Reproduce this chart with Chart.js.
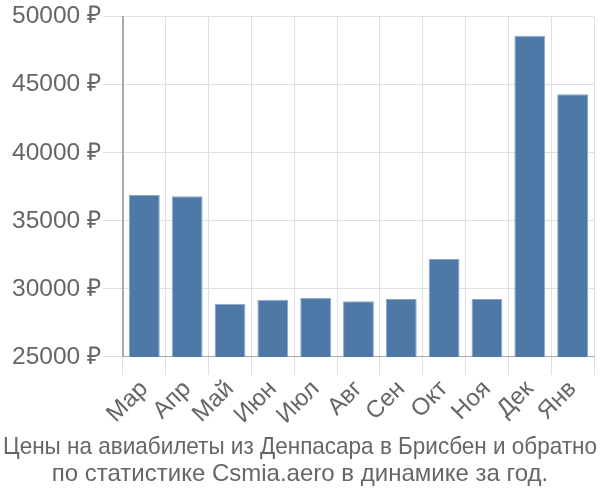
<!DOCTYPE html>
<html><head><meta charset="utf-8">
<script src="https://cdn.jsdelivr.net/npm/chart.js@4"></script>
<style>html,body{margin:0;padding:0;background:#fff}#w{width:600px;height:500px}</style>
</head><body><div id="w"><canvas id="c"></canvas></div>
<script>
const categories = ['Мар','Апр','Май','Июн','Июл','Авг','Сен','Окт','Ноя','Дек','Янв'];
const prices = [36900, 36800, 28900, 29200, 29350, 29100, 29250, 32200, 29250, 48600, 44300];
const titleLines = ['Цены на авиабилеты из Денпасара в Брисбен и обратно','по статистике Csmia.aero в динамике за год.'];
const font = '"Liberation Sans", Arial, sans-serif';
new Chart(document.getElementById('c'), {
  type: 'bar',
  data: { labels: categories, datasets: [{ data: prices, backgroundColor: '#4e79a7', borderColor: '#8aa8cc', borderWidth: 1 }] },
  options: {
    responsive: true, maintainAspectRatio: false, animation: false,
    layout: { padding: { top: 2, right: 3, left: 3, bottom: 12 } },
    plugins: {
      legend: { display: false }, tooltip: { enabled: false },
      title: { display: true, position: 'bottom', text: titleLines, color: '#666', font: { family: font, size: 24, weight: 'normal', lineHeight: 1.13 }, padding: { top: 4, bottom: 0 } }
    },
    scales: {
      x: { grid: { color: '#e0e0e0', tickLength: 18 }, border: { color: '#aaa' },
           ticks: { color: '#666', font: { family: font, size: 24 }, maxRotation: 45, minRotation: 45, padding: 0, autoSkip: false } },
      y: { min: 25000, max: 50000, grid: { color: '#e0e0e0', tickLength: 20 }, border: { color: '#aaa', width: 2 },
           afterFit: s => { s.width += 7; },
           ticks: { stepSize: 5000, color: '#666', font: { family: font, size: 24.5 }, padding: 2, callback: v => v + ' ₽' } },
      yr: { position: 'right', display: true, grid: { display: false }, border: { display: false }, ticks: { display: false },
            afterFit: s => { s.width = 3; } }
    }
  }
});
</script></body></html>
